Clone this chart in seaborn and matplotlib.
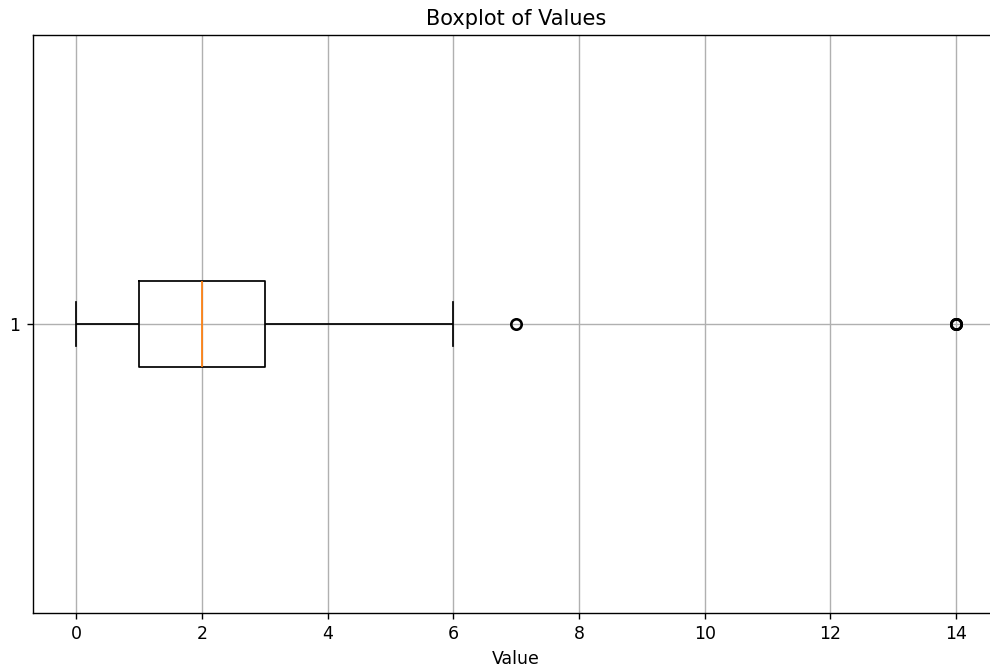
import numpy as np
import matplotlib
matplotlib.use("Agg")
import matplotlib.pyplot as plt
import seaborn as sns

# Sample values: Q1=1, median=2, Q3=3, whiskers 0..6, outliers at 7 and 14
values = [0, 1, 1, 1, 1, 1, 2, 2, 2, 2, 2, 3, 3, 3, 3, 3, 6, 7, 14, 14, 14]
x_ticks = [0, 2, 4, 6, 8, 10, 12, 14]
y_labels = ["1"]

# rendered at dpi 125 so text and lines come out at the original scale
fig = plt.figure(figsize=(990 / 125, 667 / 125), dpi=125)
# axes run slightly past the right edge, as in the cropped original
ax = fig.add_axes([32.5 / 990, 54 / 667, (1000 - 32.5) / 990, 578 / 667])

sns.boxplot(
    x=values, orient="h", width=0.15, fill=False, color="black",
    linewidth=1, whis=1.5, ax=ax,
    medianprops={"color": "#ff7f0e", "linewidth": 1},
    flierprops={"marker": "o", "markerfacecolor": "none",
                "markeredgecolor": "black", "markersize": 6,
                "markeredgewidth": 1.5},
)

ax.set_xlim(-0.7, 14.7)
ax.set_ylim(0.5, -0.5)
ax.set_xticks(x_ticks)
ax.set_yticks([0])
ax.set_yticklabels(y_labels)
ax.grid(True, color="#b0b0b0", linewidth=0.8)
ax.set_axisbelow(True)

ax.set_title("Boxplot of Values", fontsize=12)
ax.set_xlabel("Value", fontsize=10)

plt.savefig("out.png", dpi=125)
plt.close()
